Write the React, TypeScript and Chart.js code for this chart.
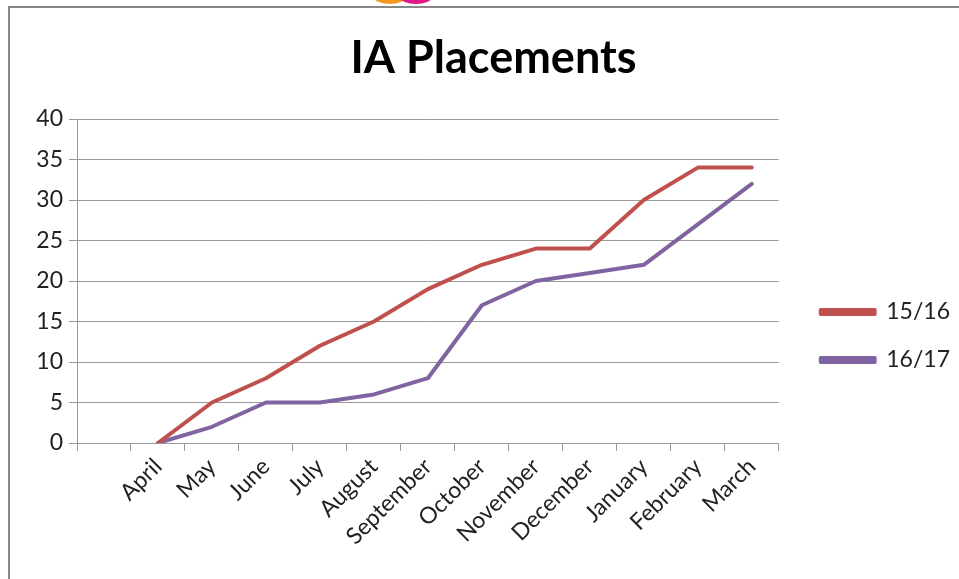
import React, { useEffect, useRef } from "react";
import { Chart, registerables } from "chart.js";

Chart.register(...registerables);

const categories = ["", "April", "May", "June", "July", "August", "September", "October", "November", "December", "January", "February", "March"];
const series1516 = [null, 0, 5, 8, 12, 15, 19, 22, 24, 24, 30, 34, 34];
const series1617 = [null, 0, 2, 5, 5, 6, 8, 17, 20, 21, 22, 27, 32];
const seriesNames = ["15/16", "16/17"];
const chartTitle = "IA Placements";

const FONT = "Lato, 'Open Sans', sans-serif";

const shiftPlugin = {
  id: "shiftBlocks",
  afterLayout(chart: any) {
    if (chart.legend) { chart.legend.left += 17; chart.legend.right += 17; }
    if (chart.titleBlock) { chart.titleBlock.left += 22; chart.titleBlock.right += 22; }
  },
};

export default function App() {
  const ref = useRef<HTMLCanvasElement | null>(null);
  useEffect(() => {
    if (!ref.current) return;
    const chart = new Chart(ref.current, {
      type: "line",
      data: {
        labels: categories,
        datasets: [
          { label: seriesNames[0], data: series1516, borderColor: "#C0504D", backgroundColor: "#C0504D", borderWidth: 4, pointRadius: 0, tension: 0, borderCapStyle: "round", borderJoinStyle: "round" },
          { label: seriesNames[1], data: series1617, borderColor: "#8064A2", backgroundColor: "#8064A2", borderWidth: 4, pointRadius: 0, tension: 0, borderCapStyle: "round", borderJoinStyle: "round" },
        ],
      },
      options: {
        animation: false,
        responsive: false,
        maintainAspectRatio: false,
        layout: { padding: { top: 31, left: 0, right: 16, bottom: 0 } },
        plugins: {
          tooltip: { enabled: false },
          title: {
            display: true,
            text: chartTitle,
            color: "#000",
            font: { family: FONT, size: 45, weight: "bold" },
            padding: { top: 0, bottom: 34 },
          },
          legend: {
            position: "right",
            align: "center",
            title: { display: true, text: " ", padding: { top: 50, bottom: 0 }, font: { size: 10 } },
            labels: {
              boxWidth: 54,
              boxHeight: 4,
              padding: 25,
              color: "#222",
              font: { family: FONT, size: 23 },
            },
          },
        },
        scales: {
          x: {
            type: "category",
            offset: true,
            grid: { offset: true, drawOnChartArea: false, drawTicks: true, tickLength: 8, color: "#999" },
            border: { color: "#999", width: 1 },
            ticks: { color: "#222", font: { family: FONT, size: 23 }, maxRotation: 45, minRotation: 45, autoSkip: false, padding: 2 },
            afterFit: (s: any) => { s.height = 136; },
          },
          y: {
            min: 0,
            max: 40,
            ticks: { stepSize: 5, color: "#222", font: { family: FONT, size: 23 }, padding: 6 },
            grid: { color: "#999", lineWidth: 1, tickLength: 8 },
            border: { color: "#999", width: 1 },
            afterFit: (s: any) => { s.width = 77; },
          },
        },
      },
      plugins: [shiftPlugin],
    });
    return () => chart.destroy();
  }, []);
  return (
    <div style={{ position: "fixed", left: 0, top: 0, width: 959, height: 579, background: "#fff", overflow: "hidden" }}>
      <div style={{ position: "absolute", left: 372, top: -14, width: 36, height: 18, borderRadius: "50%", borderBottom: "5px solid #F39A1E", boxSizing: "border-box" }} />
      <div style={{ position: "absolute", left: 400, top: -10, width: 32, height: 14, borderRadius: "50%", borderBottom: "5px solid #E0198A", boxSizing: "border-box" }} />
      <div style={{ position: "absolute", left: 8, top: 6, width: 951, height: 573, borderTop: "2px solid #888", borderLeft: "2px solid #888", boxSizing: "border-box" }} />
      <canvas ref={ref} width={959} height={579} style={{ position: "absolute", left: 0, top: 0 }} />
    </div>
  );
}
